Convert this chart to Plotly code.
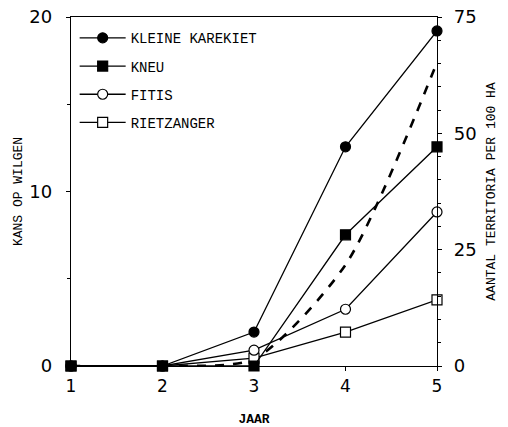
import plotly.graph_objects as go

jaar = [1, 2, 3, 4, 5]
kleine_karekiet = [0, 0, 7.3, 47.1, 72.0]
kneu = [0, 0, 0, 28.2, 47.1]
fitis = [0, 0, 3.4, 12.2, 33.1]
rietzanger = [0, 0, 1.7, 7.3, 14.2]
kans_op_wilgen = [0, 0, 0.4, 5.8, 17.4]

left_ticks = [0, 10, 20]
right_ticks = [0, 25, 50, 75]

mono = "Liberation Mono"
sans = "DejaVu Sans"

fig = go.Figure()

fig.add_trace(go.Scatter(
    x=jaar, y=kans_op_wilgen, mode="lines", yaxis="y",
    line=dict(color="black", width=2.6, dash="dash", shape="spline", smoothing=0.7),
    showlegend=False, cliponaxis=True))

series = [
    ("RIETZANGER", rietzanger, "square", "white", 4),
    ("FITIS", fitis, "circle", "white", 3),
    ("KLEINE KAREKIET", kleine_karekiet, "circle", "black", 1),
    ("KNEU", kneu, "square", "black", 2),
]
for name, vals, sym, fill, rank in series:
    fig.add_trace(go.Scatter(
        x=jaar, y=vals, mode="lines+markers", name=name, yaxis="y2",
        legendrank=rank, legendgroup=name,
        line=dict(color="black", width=1.3),
        marker=dict(symbol=sym, size=10, color=fill, line=dict(color="black", width=1.2)),
        cliponaxis=False))

fig.update_layout(
    width=508, height=427,
    margin=dict(l=71, r=71, t=17, b=61),
    paper_bgcolor="white", plot_bgcolor="white",
    showlegend=True,
    legend=dict(x=0.01, y=0.985, xanchor="left", yanchor="top",
                font=dict(family=mono, size=14, color="black"),
                bgcolor="rgba(0,0,0,0)", tracegroupgap=7, traceorder="grouped",
                itemwidth=46),
    xaxis=dict(range=[1, 5], tickvals=jaar, ticktext=[str(v) for v in jaar],
               automargin=False,
               showgrid=False, zeroline=False, showline=True, linecolor="black",
               linewidth=1.3, mirror=True, ticks="outside", ticklen=4, tickcolor="black",
               tickfont=dict(family=sans, size=17, color="black"),
               title=dict(text="<b>JAAR</b>", font=dict(family=mono, size=13, color="black"),
                          standoff=20)),
    yaxis=dict(range=[0, 20], tickvals=left_ticks, showgrid=False, zeroline=False,
               automargin=False,
               showline=True, linecolor="black", linewidth=1.3,
               ticks="outside", ticklen=4, tickcolor="black",
               minor=dict(tickvals=[5, 15], ticks="outside", ticklen=3, tickcolor="black"),
               tickfont=dict(family=sans, size=18, color="black"),
               ticklabelstandoff=10,
               title=dict(text="KANS OP WILGEN", font=dict(family=mono, size=13, color="black"),
                          standoff=3)),
    yaxis2=dict(range=[0, 75], tickvals=right_ticks, overlaying="y", side="right",
                automargin=False,
                showgrid=False, zeroline=False, showline=True, linecolor="black",
                linewidth=1.3, ticks="outside", ticklen=4, tickcolor="black",
                minor=dict(dtick=5, ticks="outside", ticklen=3, tickcolor="black"),
                tickfont=dict(family=sans, size=18, color="black"),
                ticklabelstandoff=8,
                title=dict(text="AANTAL TERRITORIA PER 100 HA",
                           font=dict(family=mono, size=13, color="black"), standoff=10)),
)

fig.write_html("out.html", config={"displayModeBar": False},
               post_script="document.body.style.margin='0';document.body.style.padding='0';")
